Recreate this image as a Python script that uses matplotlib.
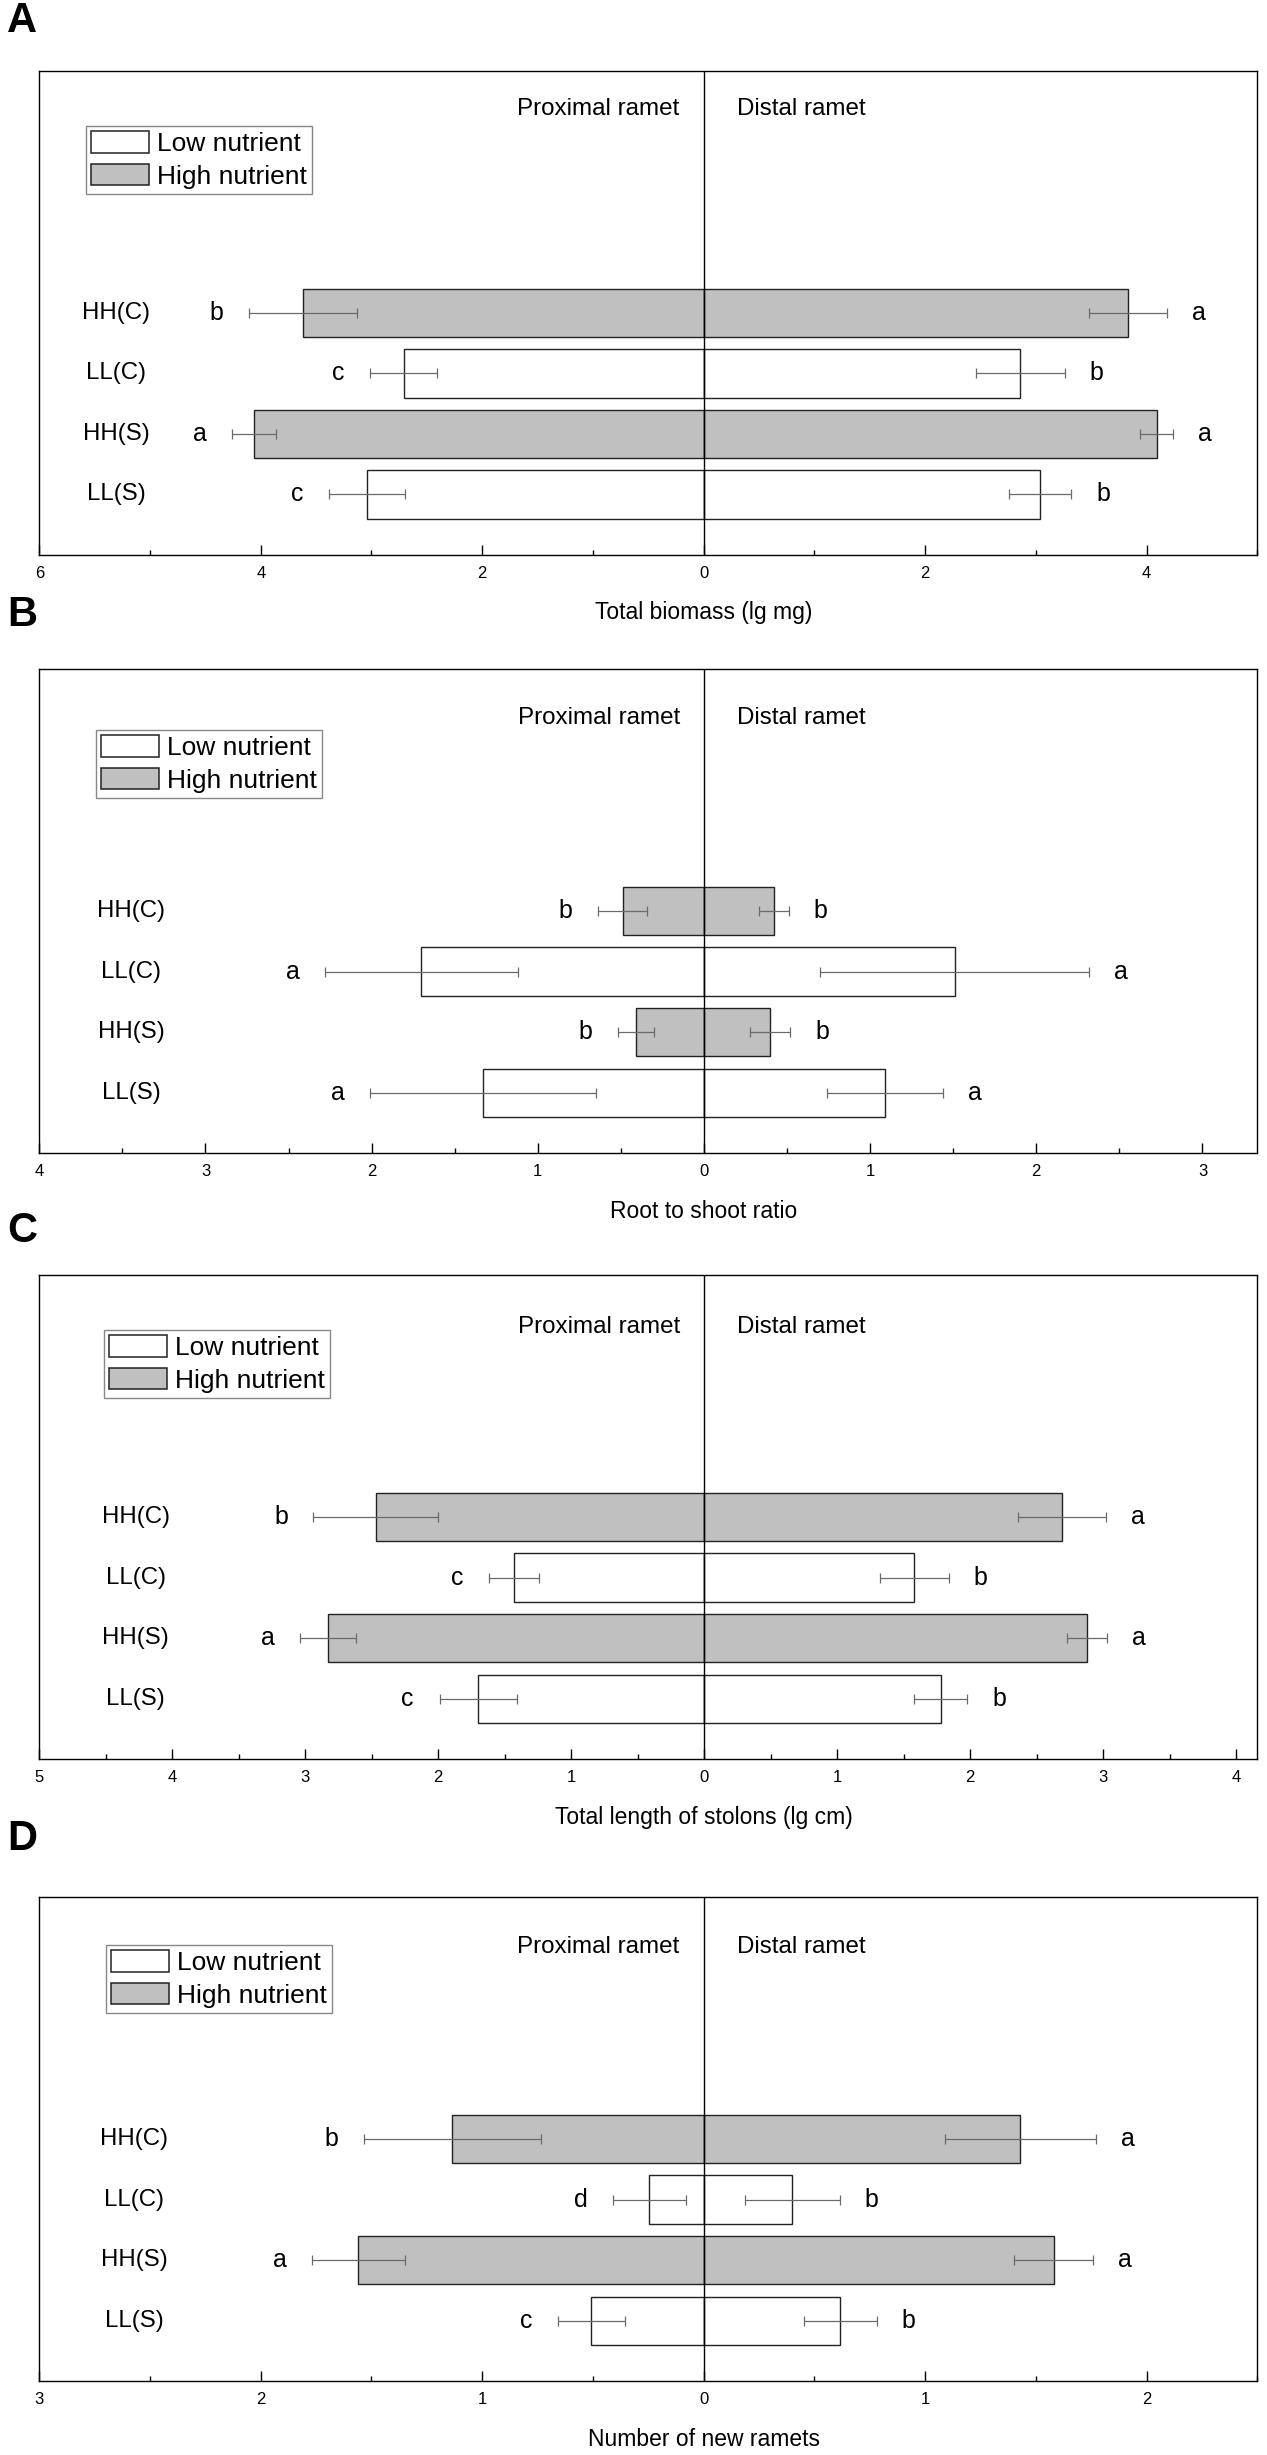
import numpy as np
import matplotlib
matplotlib.use("Agg")
import matplotlib.pyplot as plt
from matplotlib.ticker import MultipleLocator, FuncFormatter
from matplotlib.patches import Patch
from matplotlib.transforms import blended_transform_factory

plt.rcParams['font.family'] = ['Liberation Sans', 'DejaVu Sans']

# ---------------- data ----------------
categories = ["HH(C)", "LL(C)", "HH(S)", "LL(S)"]
nutrient = ["High", "Low", "High", "Low"]
legend_labels = ["Low nutrient", "High nutrient"]

# A: Total biomass (lg mg)
biomass_prox = [3.62, 2.71, 4.06, 3.04]
biomass_prox_se = [0.49, 0.30, 0.20, 0.34]
biomass_dist = [3.83, 2.86, 4.09, 3.04]
biomass_dist_se = [0.35, 0.40, 0.15, 0.28]
biomass_prox_let = ["b", "c", "a", "c"]
biomass_dist_let = ["a", "b", "a", "b"]

# B: Root to shoot ratio
rs_prox = [0.49, 1.70, 0.41, 1.33]
rs_prox_se = [0.15, 0.58, 0.11, 0.68]
rs_dist = [0.42, 1.51, 0.40, 1.09]
rs_dist_se = [0.09, 0.81, 0.12, 0.35]
rs_prox_let = ["b", "a", "b", "a"]
rs_dist_let = ["b", "a", "b", "a"]

# C: Total length of stolons (lg cm)
stolon_prox = [2.47, 1.43, 2.83, 1.70]
stolon_prox_se = [0.47, 0.19, 0.21, 0.29]
stolon_dist = [2.69, 1.58, 2.88, 1.78]
stolon_dist_se = [0.33, 0.26, 0.15, 0.20]
stolon_prox_let = ["b", "c", "a", "c"]
stolon_dist_let = ["a", "b", "a", "b"]

# D: Number of new ramets
ramet_prox = [1.135, 0.245, 1.56, 0.507]
ramet_prox_se = [0.40, 0.165, 0.21, 0.15]
ramet_dist = [1.43, 0.40, 1.58, 0.617]
ramet_dist_se = [0.34, 0.215, 0.18, 0.165]
ramet_prox_let = ["b", "d", "a", "c"]
ramet_dist_let = ["a", "b", "a", "b"]

panel_letters = ["A", "B", "C", "D"]
xlabels = ["Total biomass (lg mg)", "Root to shoot ratio",
           "Total length of stolons (lg cm)", "Number of new ramets"]

# ---------------- layout / style ----------------
W, H = 1267, 2455
fig = plt.figure(figsize=(W / 100, H / 100), dpi=100)

ax_left_px, ax_w_px, ax_h_px = 39.3, 1218.0, 484.3
ax_bottom_px = [555.0, 1153.3, 1759.3, 2381.3]
xlims = [(-6, 5), (-4, 3.33), (-5, 4.16), (-3, 2.5)]
major_steps = [2, 1, 1, 1]
minor_steps = [1, 0.5, 0.5, 0.5]
legend_anchor = [(0.0383, 0.8858), (0.0466, 0.874), (0.0531, 0.8864), (0.0548, 0.901)]
side_text_y = [0.9215, 0.898, 0.893, 0.897]
cat_x = [0.063, 0.0755, 0.079, 0.078]
letter_baseline_px = [32, 626, 1242, 1850]

fill = {"High": "#c0c0c0", "Low": "white"}
edge = "#222222"
err_color = "#6a6a6a"

panels = [
    (biomass_prox, biomass_prox_se, biomass_dist, biomass_dist_se, biomass_prox_let, biomass_dist_let),
    (rs_prox, rs_prox_se, rs_dist, rs_dist_se, rs_prox_let, rs_dist_let),
    (stolon_prox, stolon_prox_se, stolon_dist, stolon_dist_se, stolon_prox_let, stolon_dist_let),
    (ramet_prox, ramet_prox_se, ramet_dist, ramet_dist_se, ramet_prox_let, ramet_dist_let),
]

ypos = np.arange(len(categories), 0, -1)
colors = [fill[n] for n in nutrient]

for k, (prox, prox_se, dist, dist_se, plet, dlet) in enumerate(panels):
    prox = np.array(prox); prox_se = np.array(prox_se)
    dist = np.array(dist); dist_se = np.array(dist_se)
    ax = fig.add_axes([ax_left_px / W, 1 - ax_bottom_px[k] / H, ax_w_px / W, ax_h_px / H])

    ax.barh(ypos, -prox, height=0.8, color=colors, edgecolor=edge, linewidth=1.0, zorder=2)
    ax.barh(ypos, dist, height=0.8, color=colors, edgecolor=edge, linewidth=1.0, zorder=2)
    ax.errorbar(-prox, ypos, xerr=prox_se, fmt='none', ecolor=err_color,
                elinewidth=0.9, capsize=3.6, capthick=0.9, zorder=3)
    ax.errorbar(dist, ypos, xerr=dist_se, fmt='none', ecolor=err_color,
                elinewidth=0.9, capsize=3.6, capthick=0.9, zorder=3)
    ax.axvline(0, color='black', linewidth=1.0, zorder=4)

    for i in range(len(categories)):
        ax.annotate(plet[i], xy=(-(prox[i] + prox_se[i]), ypos[i]), xytext=(-23, 0),
                    textcoords='offset points', ha='center', va='center', fontsize=18)
        ax.annotate(dlet[i], xy=(dist[i] + dist_se[i], ypos[i]), xytext=(23, 0),
                    textcoords='offset points', ha='center', va='center', fontsize=18)

    tr = blended_transform_factory(ax.transAxes, ax.transData)
    for i, c in enumerate(categories):
        ax.text(cat_x[k], ypos[i], c, transform=tr, ha='center', va='center', fontsize=17.3)

    tr2 = blended_transform_factory(ax.transData, ax.transAxes)
    ax.annotate("Proximal ramet", xy=(0, side_text_y[k]), xycoords=tr2, xytext=(-17.3, 0),
                textcoords='offset points', ha='right', va='center', fontsize=17.4)
    ax.annotate("Distal ramet", xy=(0, side_text_y[k]), xycoords=tr2, xytext=(24, 0),
                textcoords='offset points', ha='left', va='center', fontsize=17.4)

    handles = [Patch(facecolor=fill["Low"], edgecolor=edge, linewidth=1.1),
               Patch(facecolor=fill["High"], edgecolor=edge, linewidth=1.1)]
    leg = ax.legend(handles, legend_labels, loc='upper left', bbox_to_anchor=legend_anchor[k],
                    borderaxespad=0, fontsize=19, frameon=True, fancybox=False,
                    framealpha=1, edgecolor='#888888', handlelength=2.2, handleheight=0.87,
                    handletextpad=0.3, labelspacing=0.3, borderpad=0.2)
    leg.get_frame().set_linewidth(1.0)

    ax.set_xlim(*xlims[k])
    ax.set_ylim(0, 8)
    ax.set_yticks([])
    ax.xaxis.set_major_locator(MultipleLocator(major_steps[k]))
    ax.xaxis.set_minor_locator(MultipleLocator(minor_steps[k]))
    ax.xaxis.set_major_formatter(FuncFormatter(lambda v, p: f"{abs(v):g}"))
    ax.tick_params(axis='x', which='both', direction='in', top=False, bottom=True,
                   width=1.0, labelsize=12, pad=8)
    ax.tick_params(axis='x', which='major', length=7.2)
    ax.tick_params(axis='x', which='minor', length=3.6)
    for s in ax.spines.values():
        s.set_linewidth(1.0)
        s.set_color('black')

    xmin, xmax = xlims[k]
    ax.set_xlabel(xlabels[k], fontsize=16.5)
    ax.xaxis.label.set_va('center')
    ax.xaxis.set_label_coords(-xmin / (xmax - xmin), -58 / ax_h_px)

    fig.text(7 / W, 1 - letter_baseline_px[k] / H, panel_letters[k], fontsize=30,
             fontweight='bold', ha='left', va='baseline')

fig.savefig("out.png", dpi=100)
